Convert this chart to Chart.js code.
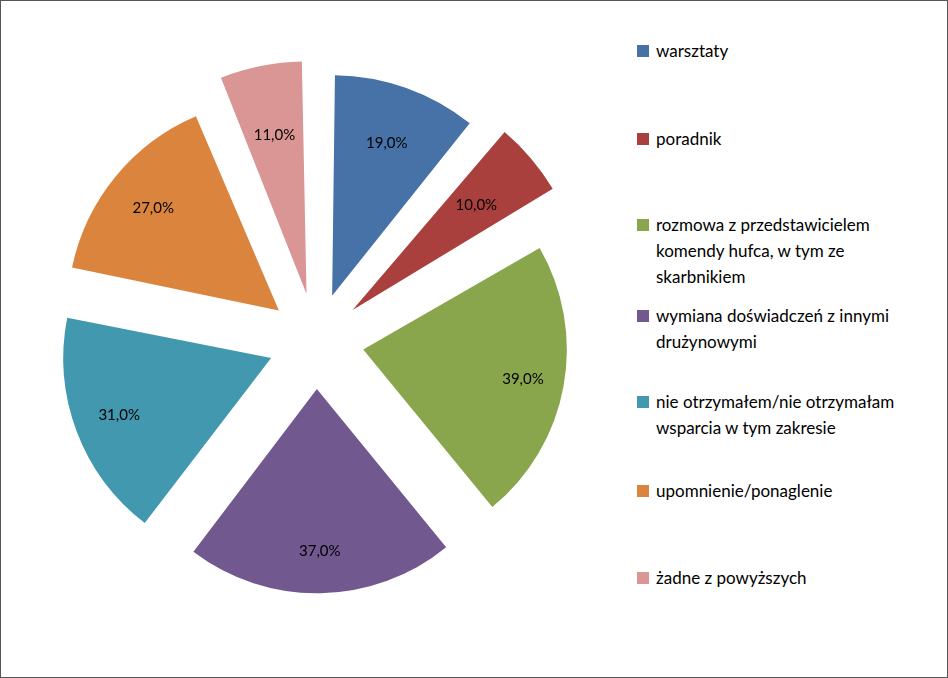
<!DOCTYPE html>
<html>
<head>
<meta charset="utf-8">
<script src="https://cdn.jsdelivr.net/npm/chart.js@4/dist/chart.umd.min.js"></script>
<style>
  body { margin: 0; background: #fff; }
  #frame { position: relative; width: 946px; height: 676px; border: 1px solid #555; overflow: hidden; }
  #box { position: absolute; left: 0; top: 0; width: 630px; height: 676px; }
  #legend { position: absolute; left: 636px; top: 0; width: 300px; font-family: Lato, "Open Sans", sans-serif; font-size: 17px; color: #000; }
  .item { position: absolute; left: 0; padding-left: 19px; line-height: 26px; }
  .sw { position: absolute; left: 0; top: 7px; width: 12px; height: 12px; }
</style>
</head>
<body>
<div id="frame">
  <div id="box"><canvas id="pie"></canvas></div>
  <div id="legend"></div>
</div>
<script>
const categories = [
  'warsztaty',
  'poradnik',
  'rozmowa z przedstawicielem komendy hufca, w tym ze skarbnikiem',
  'wymiana doświadczeń z innymi drużynowymi',
  'nie otrzymałem/nie otrzymałam wsparcia w tym zakresie',
  'upomnienie/ponaglenie',
  'żadne z powyższych'
];
const legendLines = [
  ['warsztaty'],
  ['poradnik'],
  ['rozmowa z przedstawicielem', 'komendy hufca, w tym ze', 'skarbnikiem'],
  ['wymiana doświadczeń z innymi', 'drużynowymi'],
  ['nie otrzymałem/nie otrzymałam', 'wsparcia w tym zakresie'],
  ['upomnienie/ponaglenie'],
  ['żadne z powyższych']
];
const values = [19, 10, 39, 37, 31, 27, 11];
const colors = ['#4672A8', '#A9403D', '#89A64D', '#71588F', '#4198AF', '#DB843D', '#D99694'];
const legendTops = [37, 125, 211, 302, 388, 477, 564];

const legend = document.getElementById('legend');
legendLines.forEach((lines, i) => {
  const d = document.createElement('div');
  d.className = 'item';
  d.style.top = legendTops[i] + 'px';
  d.innerHTML = '<span class="sw" style="background:' + colors[i] + '"></span>' + lines.join('<br>');
  legend.appendChild(d);
});

// arc offset is drawn at 1/4 of the option value
const SHIFT = 48;

const pctLabels = {
  id: 'pctLabels',
  afterDatasetsDraw(chart) {
    const { ctx } = chart;
    const meta = chart.getDatasetMeta(0);
    ctx.save();
    ctx.font = '15px Lato, "Open Sans", sans-serif';
    ctx.fillStyle = '#000';
    ctx.textAlign = 'center';
    ctx.textBaseline = 'middle';
    meta.data.forEach((arc, i) => {
      const p = arc.getProps(['x', 'y', 'startAngle', 'endAngle', 'outerRadius'], true);
      const mid = (p.startAngle + p.endAngle) / 2;
      const r = SHIFT + p.outerRadius * 0.8;
      ctx.fillText(values[i].toFixed(1).replace('.', ',') + '%', p.x + Math.cos(mid) * r, p.y + Math.sin(mid) * r);
    });
    ctx.restore();
  }
};

new Chart(document.getElementById('pie'), {
  type: 'pie',
  data: {
    labels: categories,
    datasets: [{ data: values, backgroundColor: colors, borderWidth: 0, offset: SHIFT * 4 }]
  },
  options: {
    responsive: true,
    maintainAspectRatio: false,
    animation: false,
    radius: 203,
    layout: { padding: { top: 90, bottom: 86, left: 67, right: 67 } },
    plugins: { legend: { display: false }, tooltip: { enabled: false } }
  },
  plugins: [pctLabels]
});
</script>
</body>
</html>
